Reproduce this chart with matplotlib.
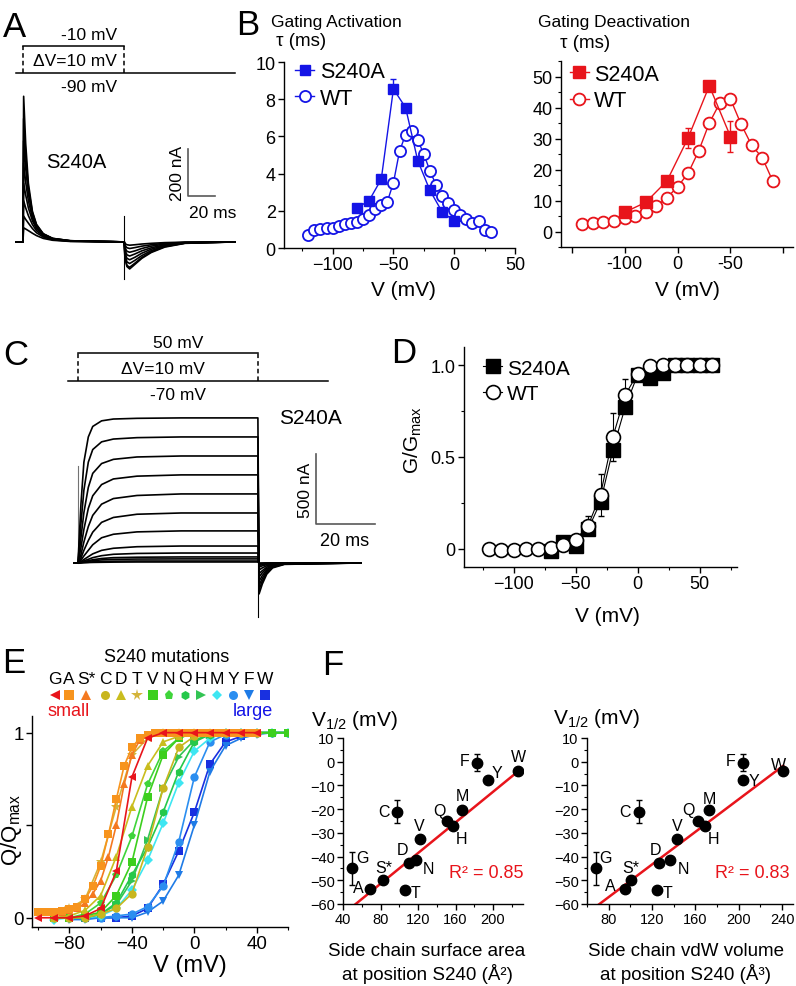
import numpy as np
import matplotlib
matplotlib.use('Agg')
import matplotlib.pyplot as plt
from matplotlib.ticker import MultipleLocator

plt.rcParams['font.family'] = ['Liberation Sans', 'DejaVu Sans']
plt.rcParams['mathtext.default'] = 'regular'
plt.rcParams['axes.linewidth'] = 1.0

# ---------------- data ----------------
# A: gating currents (ms, nA)
a_t = [-5.2, 0, 0.5, 2, 4, 7, 10, 15, 22, 35, 75, 75.5, 77, 79, 83, 88, 95, 105, 120, 157]
a_traces = [
    [0, 0, 620, 420, 250, 130, 75, 35, 15, 5, 0, -70, -105, -115, -95, -70, -45, -22, -6, 0],
    [0, 0, 525, 370, 230, 125, 72, 34, 15, 5, 0, -65, -100, -108, -90, -66, -42, -20, -5, 0],
    [0, 0, 430, 315, 205, 115, 68, 33, 14, 5, 0, -55, -85, -92, -78, -58, -37, -18, -5, 0],
    [0, 0, 335, 255, 175, 102, 62, 31, 13, 4, 0, -45, -70, -76, -65, -48, -31, -15, -4, 0],
    [0, 0, 250, 200, 145, 90, 56, 29, 12, 4, 0, -35, -55, -60, -51, -38, -25, -12, -3, 0],
    [0, 0, 175, 145, 112, 74, 48, 25, 11, 3, 0, -25, -40, -44, -38, -28, -18, -9, -2, 0],
    [0, 0, 110, 96, 80, 57, 39, 21, 9, 3, 0, -15, -25, -28, -24, -18, -12, -6, -2, 0],
    [0, 0, 60, 55, 48, 37, 27, 15, 7, 2, 0, -7, -12, -14, -12, -9, -6, -3, -1, 0],
]
a_off = 75
a_artifact = [110, -157]
a_hold, a_test = -90, -10

# C: ionic currents (ms, nA)
c_t = [-1.4, 0, 1, 2, 3.5, 5, 8, 12, 20, 35, 61, 61.4, 62.5, 64, 66, 70, 96]
c_traces = [
    [0, 0, 420, 720, 900, 975, 1015, 1028, 1033, 1036, 1036, -221, -150, -80, -35, -10, 0],
    [0, 0, 280, 520, 720, 810, 865, 885, 895, 900, 900, -190, -130, -70, -30, -8, 0],
    [0, 0, 180, 360, 540, 640, 710, 740, 757, 764, 764, -160, -110, -60, -26, -7, 0],
    [0, 0, 110, 240, 390, 480, 560, 600, 620, 629, 629, -130, -90, -50, -22, -6, 0],
    [0, 0, 60, 150, 260, 340, 420, 460, 482, 493, 493, -100, -70, -40, -18, -5, 0],
    [0, 0, 35, 90, 160, 220, 290, 325, 348, 357, 357, -75, -55, -30, -14, -4, 0],
    [0, 0, 20, 50, 90, 130, 180, 205, 222, 229, 229, -50, -35, -20, -10, -3, 0],
    [0, 0, 10, 25, 45, 65, 90, 105, 116, 121, 121, -30, -20, -12, -6, -2, 0],
    [0, 0, 6, 15, 26, 38, 52, 62, 68, 71, 71, -18, -12, -7, -4, -1, 0],
    [0, 0, 4, 9, 16, 23, 32, 38, 41, 43, 43, -10, -7, -4, -2, -1, 0],
    [0, 0, 3, 6, 11, 16, 22, 26, 28, 29, 29, -6, -4, -3, -1, 0, 0],
    [0, 0, 1, 3, 5, 8, 11, 13, 14, 14, 14, -3, -2, -1, 0, 0, 0],
    [0, 0, 1, 2, 3, 4, 5, 6, 7, 7, 7, -1, -1, 0, 0, 0, 0],
]
c_off = 61
c_artifact = [0, -386]
c_spike = [0, 693]
c_hold, c_test = -70, 50

# B: gating activation tau (ms)
act_s240a_v = [-80, -70, -60, -50, -40, -30, -20, -10, 0]
act_s240a_tau = [2.15, 2.55, 3.7, 8.55, 7.55, 4.7, 3.1, 1.95, 1.45]
act_s240a_err = [0, 0, 0, 0.55, 0, 0, 0, 0, 0]
act_wt_v = list(range(-120, 35, 5))
act_wt_tau = [0.72, 0.98, 1.02, 1.05, 1.1, 1.18, 1.28, 1.35, 1.42, 1.55, 1.8, 2.1, 2.3,
              2.5, 3.5, 5.2, 6.1, 6.3, 5.8, 5.05, 4.15, 3.4, 2.8, 2.4, 2.05, 1.75, 1.58,
              1.37, 1.47, 0.95, 0.85]

# B: gating deactivation tau (ms)
deact_ticks = [-150, -100, -50, 0, 50]
deact_ticklabels = ['', '-100', '0', '-50', '']
deact_s240a_v = [-100, -80, -60, -40, -20, 0]
deact_s240a_tau = [6.2, 9.4, 16.3, 30.2, 47.0, 30.6]
deact_s240a_err = [0, 0, 0, 3.2, 0, 5.0]
deact_wt_v = list(range(-140, 50, 10))
deact_wt_tau = [2.35, 2.8, 3.2, 3.5, 4.3, 5.1, 6.2, 8.1, 10.9, 14.4, 18.8, 26.0, 35.0,
                41.5, 42.7, 34.6, 27.8, 23.8, 16.2]

# D: G/Gmax
gv_wt_v = list(range(-120, 70, 10))
gv_wt = [0.0, -0.005, -0.005, 0.0, 0.0, 0.003, 0.02, 0.05, 0.125, 0.295, 0.61, 0.84,
         0.955, 0.995, 1.0, 1.0, 1.0, 1.0, 1.0]
gv_wt_err = [0, 0, 0, 0, 0, 0, 0, 0, 0.055, 0.115, 0.13, 0.085, 0, 0.01, 0, 0, 0, 0, 0]
gv_s240a_v = list(range(-70, 70, 10))
gv_s240a = [-0.01, 0.035, 0.015, 0.105, 0.255, 0.54, 0.775, 0.95, 0.93, 0.96, 1.0, 1.0, 1.0, 1.0]
gv_s240a_err = [0, 0, 0, 0.02, 0.075, 0.06, 0, 0, 0, 0, 0, 0, 0, 0]

# E: Q/Qmax of S240 mutations
mut_names = ['G', 'A', 'S*', 'C', 'D', 'T', 'V', 'N', 'Q', 'H', 'M', 'Y', 'F', 'W']
mut_markers = ['<', 's', '^', 'o', '^', '*', 's', 'p', 'h', '>', 'D', 'o', 'v', 's']
mut_colors = ['#e8141b', '#f7941d', '#f47920', '#c8b61e', '#c9bd1e', '#d4b43a', '#3ccf1e',
              '#3fd43a', '#25c84a', '#33c454', '#3ee6f2', '#2b8ef0', '#1f7be6', '#1930e0']
v10_a = list(range(-100, 50, 10))
v5 = list(range(-100, 45, 5))
v10_b = list(range(-90, 50, 10))
v10_c = list(range(-90, 70, 10))
v10_d = list(range(-80, 70, 10))
mut_v = [v10_a, v5, v5, v10_b, v10_b, v10_b, v10_c, v10_c, v10_c, v10_c, v10_c, v10_d, v10_d, v10_d]
mut_q = [
    [0.0, 0.0, 0.0, 0.01, 0.05, 0.25, 0.76, 0.97, 1.0, 1.0, 1.0, 1.0, 1.0, 1.0, 1.0],
    [0.03, 0.03, 0.03, 0.035, 0.045, 0.06, 0.1, 0.17, 0.28, 0.45, 0.64, 0.82, 0.92, 0.97, 0.99,
     1.0, 1.0, 1.0, 1.0, 1.0, 1.0, 1.0, 1.0, 1.0, 1.0, 1.0, 1.0, 1.0, 1.0],
    [0.03, 0.03, 0.03, 0.03, 0.04, 0.05, 0.08, 0.13, 0.2, 0.33, 0.5, 0.72, 0.88, 0.96, 0.99,
     1.0, 1.0, 1.0, 1.0, 1.0, 1.0, 1.0, 1.0, 1.0, 1.0, 1.0, 1.0, 1.0, 1.0],
    [0.0, 0.0, 0.0, 0.02, 0.05, 0.13, 0.38, 0.7, 0.92, 0.98, 1.0, 1.0, 1.0, 1.0],
    [0.0, 0.01, 0.04, 0.12, 0.33, 0.6, 0.82, 0.95, 0.98, 1.0, 1.0, 1.0, 1.0, 1.0],
    [0.02, 0.05, 0.1, 0.3, 0.6, 0.88, 0.97, 1.0, 1.0, 1.0, 1.0, 1.0, 1.0, 1.0],
    [0.0, 0.0, 0.01, 0.03, 0.12, 0.3, 0.65, 0.88, 0.97, 1.0, 1.0, 1.0, 1.0, 1.0, 1.0, 1.0],
    [0.0, 0.0, 0.02, 0.08, 0.23, 0.44, 0.72, 0.9, 0.97, 1.0, 1.0, 1.0, 1.0, 1.0, 1.0, 1.0],
    [0.0, 0.0, 0.0, 0.02, 0.08, 0.23, 0.38, 0.57, 0.79, 0.95, 0.99, 1.0, 1.0, 1.0, 1.0, 1.0],
    [0.0, 0.0, 0.0, 0.02, 0.07, 0.2, 0.42, 0.7, 0.87, 0.96, 0.99, 1.0, 1.0, 1.0, 1.0, 1.0],
    [-0.01, 0.0, 0.0, 0.01, 0.05, 0.15, 0.31, 0.51, 0.73, 0.9, 0.97, 1.0, 1.0, 1.0, 1.0, 1.0],
    [0.0, 0.0, 0.0, 0.01, 0.02, 0.06, 0.17, 0.41, 0.76, 0.95, 0.99, 1.0, 1.0, 1.0, 1.0],
    [-0.01, -0.01, 0.0, 0.0, 0.0, 0.03, 0.09, 0.23, 0.5, 0.79, 0.93, 0.97, 0.99, 1.0, 1.0],
    [0.0, 0.0, 0.0, 0.0, 0.01, 0.05, 0.18, 0.36, 0.57, 0.83, 0.95, 0.98, 1.0, 1.0, 1.0],
]
# x positions (pixels) of the key letters above panel E
key_x = [55, 69, 86, 105, 121, 137, 153, 169, 185, 201, 217, 233, 249, 265]

# F: V1/2 vs side chain size
v_half = [-44.9, -53.6, -49.7, -21.0, -42.6, -53.9, -32.5, -41.6, -24.8, -26.9, -20.5, -7.5, -0.4, -4.0]
v_half_err = [7, 0, 0, 5, 0, 0, 0, 0, 0, 0, 0, 0, 3.5, 0]
surface = [49.3, 68.8, 83, 98, 110.4, 105.8, 122, 117.5, 150.6, 157, 166.6, 195, 183, 227]
volume = [68.3, 94.7, 100.8, 107.6, 126.5, 124.4, 142.8, 136.7, 162, 168.8, 172.9, 203.5, 204, 241]
# linear fits as drawn in the figure (slope, intercept)
fit_surface = (0.323, -77.3)
fit_volume = (0.344, -84.6)
r2_surface, r2_volume = 0.85, 0.83

# label offsets (pixels) for the letters in F
off_left = [(11, 11), (-12, 1), (0, 12), (-13, 0), (-6, 13), (11, -3), (-1, 13), (13, -8),
            (-7, 10), (9, -13), (1, 15), (9, 7), (-12, 2), (0, 15)]
off_right = [(10, 11), (-14, 3), (0, 12), (-14, 0), (-4, 13), (11, -3), (0, 13), (13, -8),
             (-9, 11), (9, -13), (0, 12), (11, -1), (-13, 2), (-5, 7)]

blue = '#1414e6'
red = '#e8141b'

# ---------------- figure ----------------
W, H = 796, 987
fig = plt.figure(figsize=(W / 100, H / 100), dpi=100)


def axes_px(l, t, r, b):
    return fig.add_axes([l / W, 1 - b / H, (r - l) / W, (b - t) / H])


def style(ax, size):
    ax.spines['top'].set_visible(False)
    ax.spines['right'].set_visible(False)
    ax.tick_params(which='major', length=4, width=1, labelsize=size, pad=2)
    ax.tick_params(which='minor', length=2.5, width=0.8)
    ax.patch.set_alpha(0)


def legend(ax, handles, anchor, size, spacing):
    ax.legend(handles, ['S240A', 'WT'], loc='upper left', bbox_to_anchor=anchor,
              frameon=False, fontsize=size, handlelength=0.9, handletextpad=0.25,
              borderaxespad=0, labelspacing=spacing)


# ---- A ----
axA = axes_px(10, 90, 240, 300)
axA.set_xlim(-9.6, 160.7)
axA.set_ylim(-243, 651)
axA.axis('off')
for tr in a_traces:
    axA.plot(a_t, tr, color='k', lw=1.2)
axA.plot([a_off, a_off], a_artifact, color='k', lw=0.8)
axA.plot([122, 122, 142], [396, 196, 196], color='0.35', lw=1.2)

axAP = axes_px(10, 40, 240, 80)
axAP.set_xlim(-9.6, 160.7)
axAP.set_ylim(-108, 11)
axAP.axis('off')
axAP.plot([a_t[0], a_t[-1]], [a_hold, a_hold], color='k', lw=1.1)
axAP.plot([0, a_off], [a_test, a_test], color='k', lw=1.1)
for t in [0, a_off]:
    axAP.plot([t, t], [a_hold, a_test], color='k', lw=1.1, ls=(0, (3, 2)))

# ---- C ----
axC = axes_px(60, 400, 380, 640)
axC.set_xlim(-6.1, 102.4)
axC.set_ylim(-543, 1171)
axC.axis('off')
axC.plot([0, 0], c_spike, color='0.45', lw=0.8)
for tr in c_traces:
    axC.plot(c_t, tr, color='k', lw=1.2)
axC.plot([c_off, c_off], c_artifact, color='k', lw=0.8)
axC.plot([80.7, 80.7, 100.7], [778.6, 278.6, 278.6], color='0.35', lw=1.2)

axCP = axes_px(60, 345, 380, 392)
axCP.set_xlim(-6.1, 102.4)
axCP.set_ylim(-112.9, 88.6)
axCP.axis('off')
axCP.plot([-3.4, 84.7], [c_hold, c_hold], color='k', lw=1.1)
axCP.plot([0, c_off], [c_test, c_test], color='k', lw=1.1)
for t in [0, c_off]:
    axCP.plot([t, t], [c_hold, c_test], color='k', lw=1.1, ls=(0, (3, 2)))

# ---- B left ----
axB1 = axes_px(284, 63, 515, 249)
style(axB1, 13)
axB1.set_xlim(-140, 50)
axB1.set_ylim(0, 10)
h_wt, = axB1.plot(act_wt_v, act_wt_tau, '-o', color=blue, mfc='white', mec=blue,
                  ms=8, mew=1.3, lw=1)
axB1.errorbar(act_s240a_v, act_s240a_tau, yerr=[np.zeros(len(act_s240a_err)), act_s240a_err],
              fmt='none', ecolor=blue, capsize=2, elinewidth=1)
h_mu, = axB1.plot(act_s240a_v, act_s240a_tau, '-s', color=blue, ms=7.5, lw=1)
axB1.set_xticks([-100, -50, 0, 50])
axB1.xaxis.set_minor_locator(MultipleLocator(25))
axB1.set_yticks([0, 2, 4, 6, 8, 10])
legend(axB1, [h_mu, h_wt], (0.01, 1.05), 15.5, 0.25)

# ---- B right ----
axB2 = axes_px(561, 62, 793, 248)
style(axB2, 13)
axB2.set_xlim(-160, 59)
axB2.set_ylim(-5, 55)
h_wt2, = axB2.plot(deact_wt_v, deact_wt_tau, '-o', color=red, mfc='white', mec=red,
                   ms=8.5, mew=1.3, lw=1)
axB2.errorbar(deact_s240a_v, deact_s240a_tau, yerr=deact_s240a_err,
              fmt='none', ecolor=red, capsize=2, elinewidth=1)
h_mu2, = axB2.plot(deact_s240a_v, deact_s240a_tau, '-s', color=red, ms=8, lw=1)
axB2.set_xticks(deact_ticks)
axB2.set_xticklabels(deact_ticklabels)
axB2.set_yticks([0, 10, 20, 30, 40, 50])
axB2.yaxis.set_minor_locator(MultipleLocator(5))
legend(axB2, [h_mu2, h_wt2], (0.0, 1.03), 15.5, 0.25)

# ---- D ----
axD = axes_px(464, 348, 737, 568)
style(axD, 13)
axD.set_xlim(-140, 80)
axD.set_ylim(-0.1, 1.1)
axD.errorbar(gv_s240a_v, gv_s240a, yerr=[gv_s240a_err, np.zeros(len(gv_s240a_err))],
             fmt='none', ecolor='k', capsize=2, elinewidth=0.8)
h_muD, = axD.plot(gv_s240a_v, gv_s240a, '-s', color='k', ms=10, lw=0.8)
axD.errorbar(gv_wt_v, gv_wt, yerr=[np.zeros(len(gv_wt_err)), gv_wt_err],
             fmt='none', ecolor='k', capsize=2, elinewidth=0.8)
h_wtD, = axD.plot(gv_wt_v, gv_wt, '-o', color='k', mfc='white', mec='k', ms=10, mew=1.2, lw=0.8)
axD.set_xticks([-100, -50, 0, 50])
axD.xaxis.set_minor_locator(MultipleLocator(25))
axD.set_yticks([0, 0.5, 1.0])
axD.set_yticklabels(['0', '0.5', '1.0'])
axD.yaxis.set_minor_locator(MultipleLocator(0.25))
legend(axD, [h_muD, h_wtD], (0.04, 0.985), 15, 0.3)

# ---- E ----
axE = axes_px(32, 717, 288, 928)
style(axE, 13.5)
axE.set_xlim(-104, 60)
axE.set_ylim(-0.05, 1.09)
for i in reversed(range(len(mut_names))):
    ms = 5 if mut_markers[i] == 'D' else (7.5 if mut_markers[i] == '*' else 6)
    axE.plot(mut_v[i], mut_q[i], marker=mut_markers[i], color=mut_colors[i], ms=ms,
             lw=1.2, mew=0)
axE.set_xticks([-80, -40, 0, 40])
axE.set_xticks([-100, -60, -20, 20, 60], minor=True)
axE.set_yticks([0, 0.5, 1])
axE.set_yticklabels(['0', '', '1'])


# ---- F ----
def scatter_panel(rect, xdata, xlim, xticks, offsets, fit):
    ax = axes_px(*rect)
    style(ax, 10.5)
    ax.set_xlim(*xlim)
    ax.set_ylim(-60, 10)
    ax.errorbar(xdata, v_half, yerr=v_half_err, fmt='o', color='k', ms=7.5,
                capsize=2, elinewidth=1, zorder=3)
    xs = np.array([xlim[0], max(xdata)])
    ax.plot(xs, fit[0] * xs + fit[1], color=red, lw=1.8, zorder=2)
    for name, x, y, (dx, dy) in zip(mut_names, xdata, v_half, offsets):
        ax.annotate(name, (x, y), xytext=(dx, dy), textcoords='offset pixels',
                    ha='center', va='center', fontsize=11.5)
    ax.set_xticks(xticks)
    ax.xaxis.set_minor_locator(MultipleLocator(20))
    ax.set_yticks(range(-60, 11, 10))
    ax.yaxis.set_minor_locator(MultipleLocator(5))
    return ax


axF1 = scatter_panel((343, 739, 523, 905), surface, (40, 232), [40, 80, 120, 160, 200],
                     off_left, fit_surface)
axF2 = scatter_panel((587, 739, 793, 905), volume, (60, 250), [80, 120, 160, 200, 240],
                     off_right, fit_volume)

# ---------------- overlay text (pixel coordinates) ----------------
ov = fig.add_axes([0, 0, 1, 1])
ov.set_xlim(0, W)
ov.set_ylim(H, 0)
ov.axis('off')


def txt(x, y, s, size=13, ha='center', va='center', **kw):
    ov.text(x, y, s, fontsize=size, ha=ha, va=va, **kw)


for x, y, s in [(3, 37, 'A'), (236, 35, 'B'), (3, 365, 'C'), (391, 363, 'D'),
                (2, 673, 'E'), (322, 675, 'F')]:
    txt(x, y, s, size=25, ha='left', va='baseline')

# A
txt(89, 35, '-10 mV', 12.5)
txt(75, 62, 'ΔV=10 mV', 12.5)
txt(89, 88, '-90 mV', 12.5)
txt(76, 162, 'S240A', 14.5)
txt(178, 173, '200 nA', 12.5, rotation=90)
txt(213, 214, '20 ms', 12.5)

# B
txt(271, 22, 'Gating Activation', 12.5, ha='left')
txt(301, 42, 'τ (ms)', 13.5)
txt(403, 290, 'V (mV)', 15)
txt(538, 22, 'Gating Deactivation', 12.5, ha='left')
txt(585, 43, 'τ (ms)', 13.5)
txt(687, 290, 'V (mV)', 15)

# C
txt(178, 343, '50 mV', 12.5)
txt(163, 370, 'ΔV=10 mV', 12.5)
txt(178, 396, '-70 mV', 12.5)
txt(310, 419, 'S240A', 15)
txt(305, 490, '500 nA', 12.5, rotation=90)
txt(345, 541, '20 ms', 13)

# D
txt(413, 440, 'G/G$_{max}$', 15, rotation=90)
txt(607, 617, 'V (mV)', 15)

# E
txt(167, 658, 'S240 mutations', 13)
for name, x, mk, col in zip(mut_names, key_x, mut_markers, mut_colors):
    txt(x, 679, name, 12.5)
    ms = 5.5 if mk == 'D' else (8.5 if mk == '*' else 6.5)
    ov.plot([x], [696], marker=mk, color=col, ms=ms, ls='none', mew=0)
txt(69, 711, 'small', 13, color=red)
txt(253, 711, 'large', 13, color=blue)
txt(12, 830, 'Q/Q$_{max}$', 16, rotation=90)
txt(190, 966, 'V (mV)', 17)

# F
txt(354, 720, 'V$_{1/2}$ (mV)', 15)
txt(596, 718, 'V$_{1/2}$ (mV)', 15)
txt(427, 952, 'Side chain surface area', 13.5)
txt(427, 974, 'at position S240 (Å²)', 13.5)
txt(686, 952, 'Side chain vdW volume', 13.5)
txt(686, 974, 'at position S240 (Å³)', 13.5)
txt(486, 873, 'R² = %.2f' % r2_surface, 13, color=red)
txt(752, 873, 'R² = %.2f' % r2_volume, 13, color=red)

fig.savefig('out.png', dpi=100)
